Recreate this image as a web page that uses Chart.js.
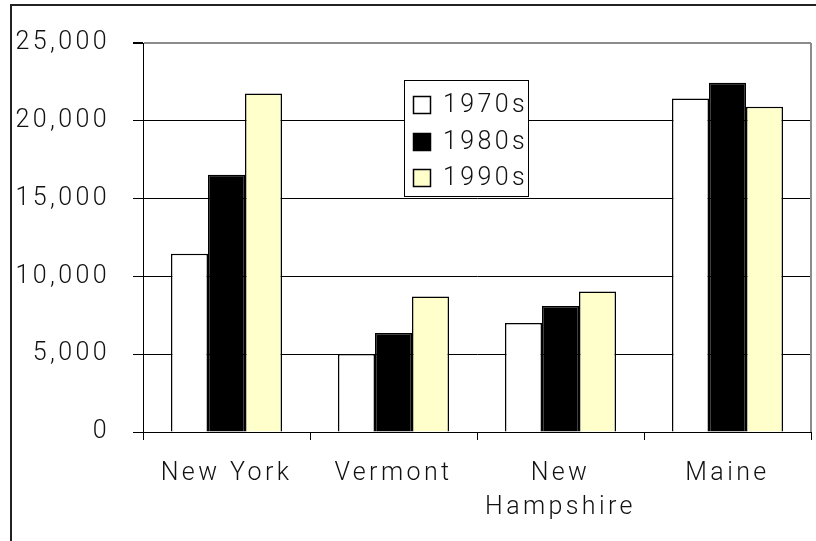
<!DOCTYPE html>
<html lang="en">
<head>
  <meta charset="UTF-8" />
  <title>Decades by state</title>
  <script src="https://cdn.jsdelivr.net/npm/chart.js"></script>
  <style>
    html, body { margin: 0; padding: 0; background: #fff; }
    #wrap { width: 816px; height: 541px; }
  </style>
</head>
<body>
  <div id="wrap"><canvas id="chart" width="816" height="541"></canvas></div>

  <script>
    // data
    const categories = ['New York', 'Vermont', ['New', 'Hampshire'], 'Maine'];
    const decades = ['1970s', '1980s', '1990s'];
    const values1970s = [11450, 5020, 7010, 21440];
    const values1980s = [16540, 6370, 8090, 22450];
    const values1990s = [21750, 8710, 9030, 20900];
    const yMax = 25000;
    const yStep = 5000;

    const fills = ['#ffffff', '#000000', '#ffffcc'];
    const fontFamily = "Roboto, 'DejaVu Sans', sans-serif";
    const spacing = '3.4px';

    // letter spacing for the wide, airy look of the original text
    const spacedText = {
      id: 'spacedText',
      beforeLayout(chart) { chart.ctx.letterSpacing = spacing; },
      beforeDraw(chart) { chart.ctx.letterSpacing = spacing; }
    };

    // outer frame, right edge of the plot and the legend box inside the plot
    const decorations = {
      id: 'decorations',
      afterDraw(chart) {
        const ctx = chart.ctx;
        const area = chart.chartArea;
        ctx.save();
        ctx.letterSpacing = spacing;

        ctx.strokeStyle = '#222';
        ctx.lineWidth = 2;
        ctx.beginPath();
        ctx.moveTo(11, 541);
        ctx.lineTo(11, 5);
        ctx.lineTo(816, 5);
        ctx.stroke();

        ctx.strokeStyle = '#8c8c8c';
        ctx.lineWidth = 2;
        ctx.beginPath();
        ctx.moveTo(area.right, area.top);
        ctx.lineTo(area.right, area.bottom);
        ctx.stroke();

        // legend
        const bx = 404.5, by = 80.5, bw = 124, bh = 116;
        ctx.fillStyle = '#fff';
        ctx.fillRect(bx, by, bw, bh);
        ctx.strokeStyle = '#000';
        ctx.lineWidth = 1;
        ctx.strokeRect(bx, by, bw, bh);

        const rows = [105, 142, 178];
        ctx.font = '300 25px ' + fontFamily;
        ctx.textBaseline = 'middle';
        ctx.textAlign = 'left';
        chart.data.datasets.forEach((ds, i) => {
          const y = rows[i];
          ctx.fillStyle = ds.backgroundColor;
          ctx.fillRect(413.5, y - 8.5, 17, 17);
          ctx.strokeStyle = '#000';
          ctx.lineWidth = 1.5;
          ctx.strokeRect(413.5, y - 8.5, 17, 17);
          ctx.fillStyle = '#111';
          ctx.fillText(ds.label, 443, y + 1);
        });
        ctx.restore();
      }
    };

    const seriesValues = [values1970s, values1980s, values1990s];
    const datasets = decades.map((label, i) => ({
      label,
      data: seriesValues[i],
      backgroundColor: fills[i],
      borderColor: '#000',
      borderWidth: 1.5,
      categoryPercentage: 0.665,
      barPercentage: 1.0
    }));

    new Chart(document.getElementById('chart'), {
      type: 'bar',
      data: { labels: categories, datasets },
      plugins: [spacedText, decorations],
      options: {
        responsive: false,
        animation: false,
        devicePixelRatio: 1,
        layout: { padding: { left: 0, top: 43, right: 5, bottom: 0 } },
        plugins: {
          legend: { display: false },
          tooltip: { enabled: false }
        },
        scales: {
          x: {
            afterFit(scale) { scale.height = 109; },
            border: { display: true, color: '#000', width: 1 },
            grid: {
              offset: true,
              drawOnChartArea: false,
              drawTicks: true,
              tickLength: 8,
              color: '#000'
            },
            ticks: {
              color: '#111',
              padding: 17,
              maxRotation: 0,
              autoSkip: false,
              font: { family: fontFamily, size: 25, weight: 300, lineHeight: 1.34 }
            }
          },
          y: {
            min: 0,
            max: yMax,
            afterFit(scale) { scale.width = 143; },
            border: { display: true, color: '#000', width: 1 },
            grid: {
              color: ctx => ctx.tick && ctx.tick.value === yMax ? '#8c8c8c' : '#000',
              lineWidth: ctx => ctx.tick && ctx.tick.value === yMax ? 2 : 1,
              tickLength: 10,
              tickColor: '#000'
            },
            ticks: {
              stepSize: yStep,
              color: '#111',
              padding: 23,
              font: { family: fontFamily, size: 25, weight: 300 },
              callback: v => v.toLocaleString('en-US')
            }
          }
        }
      }
    });
  </script>
</body>
</html>
